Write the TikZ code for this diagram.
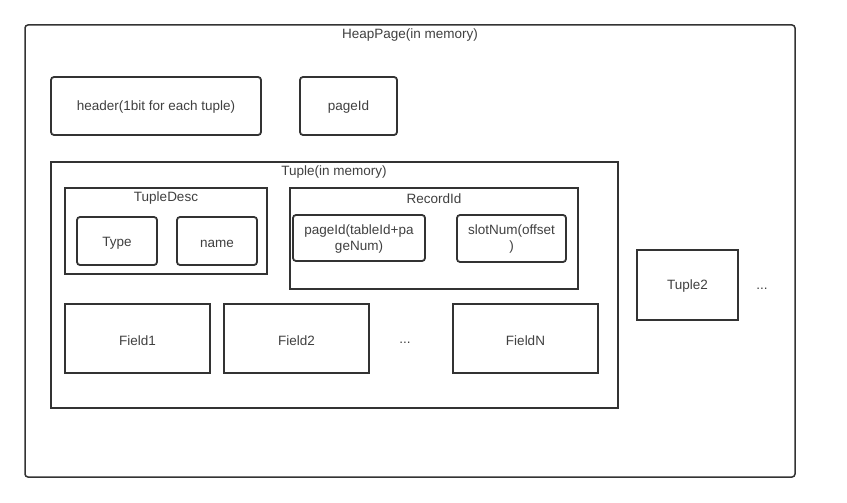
\documentclass[tikz,border=0pt]{standalone}
\usepackage{fontspec}
\setmainfont{Liberation Sans}
\begin{document}
\begin{tikzpicture}[x=1pt,y=-1pt,
  box/.style={draw=black!80,line width=1.8pt,fill=white},
  rbox/.style={box,rounded corners=3pt},
  lbl/.style={text=black!75,font=\fontsize{13.5}{16}\selectfont,align=center,inner sep=0pt,yshift=-1.5pt}]
\useasboundingbox[fill=white] (0,0) rectangle (847,503);
% HeapPage
\draw[rbox,line width=1.5pt] (25,25) rectangle (795,477);
\node[lbl] (hp) at (410,34) {HeapPage(in memory)};
\draw[rbox] (51,77) rectangle (261,135);
\node[lbl] (hdr) at (156,106) {header(1bit for each tuple)};
\draw[rbox] (300,77) rectangle (397,135);
\node[lbl] (pid) at (348.5,106) {pageId};
% Tuple
\draw[box] (51,162) rectangle (618,408);
\node[lbl] (tp) at (334,171) {Tuple(in memory)};
\draw[box] (65,188) rectangle (267,274);
\node[lbl] (td) at (166,197) {TupleDesc};
\draw[rbox] (77,217) rectangle (157,265);
\node[lbl] (ty) at (117,242) {Type};
\draw[rbox] (177,217) rectangle (257,265);
\node[lbl] (nm) at (217,242) {name};
\draw[box] (290,188) rectangle (578,289);
\node[lbl] (rid) at (434,197) {RecordId};
\draw[rbox] (293,215) rectangle (425,261);
\node[lbl] (rp) at (359,238) {pageId(tableId+pa\\geNum)};
\draw[rbox] (457,215) rectangle (566,262);
\node[lbl] (sn) at (511.5,238) {slotNum(offset\\)};
\draw[box] (65,304) rectangle (210,373);
\node[lbl] (f1) at (137.5,339) {Field1};
\draw[box] (224,304) rectangle (369,373);
\node[lbl] (f2) at (296.5,339) {Field2};
\node[lbl] (fd) at (405,341) {...};
\draw[box] (453,304) rectangle (598,373);
\node[lbl] (fn) at (525.5,339) {FieldN};
% Tuple2
\draw[box] (637,250) rectangle (738,320);
\node[lbl] (t2) at (687.5,285) {Tuple2};
\node[lbl] (td2) at (762,287) {...};
\end{tikzpicture}
\end{document}
